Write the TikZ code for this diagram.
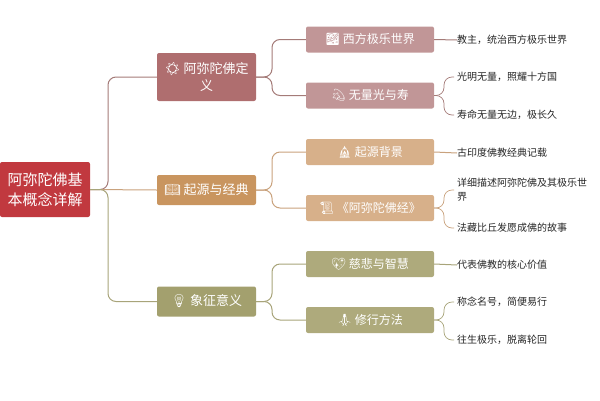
\documentclass[tikz,border=0pt]{standalone}
\usepackage{fontspec}
\setmainfont{Noto Sans CJK SC}
\newfontfamily\emo{Noto Emoji}
\begin{document}
\begin{tikzpicture}[x=1pt,y=-1pt,
  box/.style={rounded corners=2pt,text=white,align=center,inner sep=0pt,font=\fontsize{12}{14}\selectfont},
  leaf/.style={anchor=west,inner sep=0pt,align=left,font=\fontsize{10}{14}\selectfont,text=black!85},
  con/.style={line width=1pt,rounded corners=8pt}]
\useasboundingbox (0,0) rectangle (600,400);
\definecolor{cR}{HTML}{C1393F}
\definecolor{cA}{HTML}{AF6E6F}\definecolor{cA2}{HTML}{C19697}\definecolor{lA}{HTML}{A47B78}
\definecolor{cB}{HTML}{C9955F}\definecolor{cB2}{HTML}{D7B08A}\definecolor{lB}{HTML}{C9A27D}
\definecolor{cC}{HTML}{A3A06E}\definecolor{cC2}{HTML}{AEAA7C}\definecolor{lC}{HTML}{A8A47A}
\node[box,fill=cR,minimum width=90,minimum height=55,font=\fontsize{15}{20}\selectfont] (r) at (45,189.5) {阿弥陀佛基\\本概念详解};
\node[box,fill=cA,minimum width=99,minimum height=48,font=\fontsize{13}{17}\selectfont] (a) at (206.5,77) {{\emo ☀} 阿弥陀佛定\\义};
\node[box,fill=cB,minimum width=99,minimum height=30,font=\fontsize{13}{17}\selectfont] (b) at (206.5,190) {{\emo 📖} 起源与经典};
\node[box,fill=cC,minimum width=99,minimum height=30,font=\fontsize{13}{17}\selectfont] (c) at (206.5,301.5) {{\emo 💡} 象征意义};
\node[box,fill=cA2,minimum width=128,minimum height=26] (a1) at (370,39.5) {{\emo 🌌} 西方极乐世界};
\node[box,fill=cA2,minimum width=128,minimum height=26] (a2) at (370,95.5) {{\emo 💫} 无量光与寿};
\node[box,fill=cB2,minimum width=128,minimum height=26] (b1) at (370,152) {{\emo 🛕} 起源背景};
\node[box,fill=cB2,minimum width=128,minimum height=26] (b2) at (370,208) {{\emo 📜} 《阿弥陀佛经》};
\node[box,fill=cC2,minimum width=128,minimum height=26] (c1) at (370,264) {{\emo 💖} 慈悲与智慧};
\node[box,fill=cC2,minimum width=128,minimum height=26] (c2) at (370,320) {{\emo 🙏} 修行方法};
\node[leaf] (a1l) at (457,40) {教主，统治西方极乐世界};
\node[leaf] (a2l1) at (457,77) {光明无量，照耀十方国};
\node[leaf] (a2l2) at (457,115) {寿命无量无边，极长久};
\node[leaf] (b1l) at (457,153) {古印度佛教经典记载};
\node[leaf] (b2l1) at (457,190) {详细描述阿弥陀佛及其极乐世\\界};
\node[leaf] (b2l2) at (457,228) {法藏比丘发愿成佛的故事};
\node[leaf] (c1l) at (457,265) {代表佛教的核心价值};
\node[leaf] (c2l1) at (457,302) {称念名号，简便易行};
\node[leaf] (c2l2) at (457,340) {往生极乐，脱离轮回};
\draw[con,lA] (r.east) -- (108,189.5) |- (a.west);
\draw[con,lB] (r.east) -- (b.west);
\draw[con,lC] (r.east) -- (108,189.5) |- (c.west);
\foreach \p/\q/\col in {a/a1/lA,a/a2/lA,b/b1/lB,b/b2/lB,c/c1/lC,c/c2/lC}
  \draw[con,\col] (\p.east) -- (272,0|-\p.east) |- (\q.west);
\draw[con,lA] (a1.east) -- (a1l.west);
\draw[con,lB] (b1.east) -- (b1l.west);
\draw[con,lC] (c1.east) -- (c1l.west);
\foreach \p/\q/\col in {a2/a2l1/lA,a2/a2l2/lA,b2/b2l1/lB,b2/b2l2/lB,c2/c2l1/lC,c2/c2l2/lC}
  \draw[con,line width=0.7pt,\col] (\p.east) -- (444,0|-\p.east) |- ([xshift=-3pt]\q.west);
\end{tikzpicture}
\end{document}
